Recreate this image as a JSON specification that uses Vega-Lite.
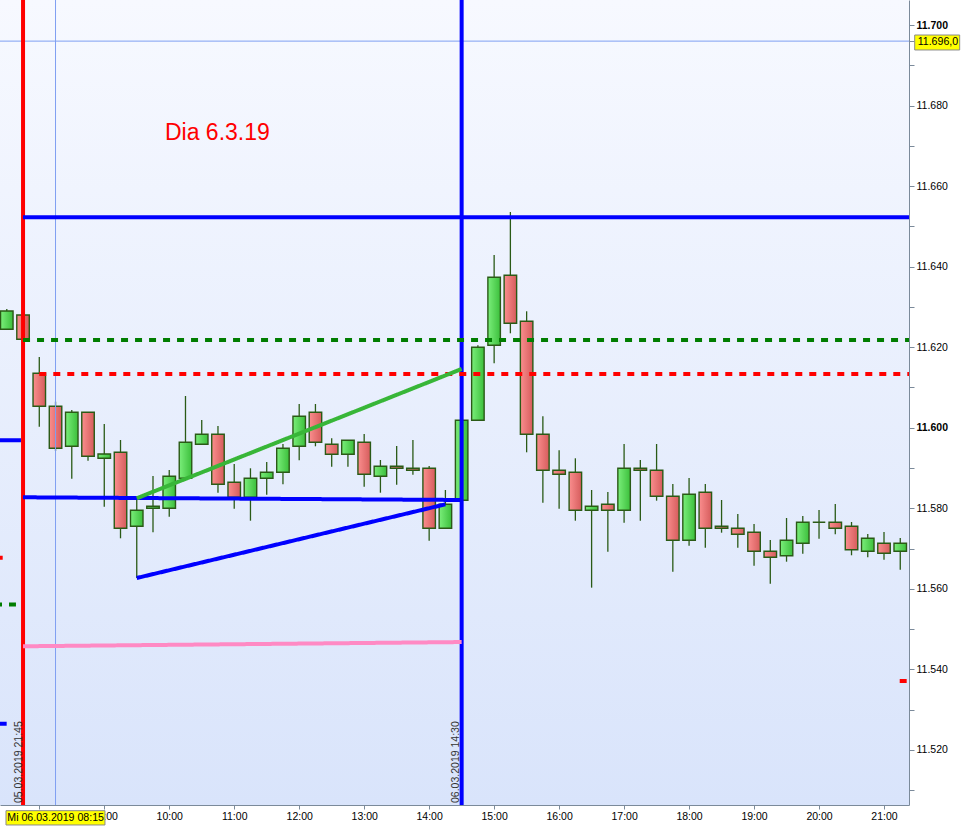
{
  "$schema": "https://vega.github.io/schema/vega-lite/v6.json",
  "width": 909,
  "height": 805,
  "autosize": "none",
  "padding": {"left": 0, "top": 0, "right": 61, "bottom": 22},
  "background": "#ffffff",
  "config": {"view": {"stroke": null}, "font": "Liberation Sans"},
  "resolve": {"axis": {"x": "independent", "y": "independent"}},
  "datasets": {
    "bg": [{"bg": 1}],
    "candles": [
      {"zeit": "05.03. 21:30", "t": 7.5, "o": 11624.45, "h": 11629.49, "l": 11624.45, "c": 11629.0},
      {"zeit": "05.03. 21:45", "t": 7.75, "o": 11628.0, "h": 11628.0, "l": 11621.97, "c": 11621.97},
      {"zeit": "06.03. 08:00", "t": 8.0, "o": 11613.53, "h": 11617.57, "l": 11600.27, "c": 11605.34},
      {"zeit": "06.03. 08:15", "t": 8.25, "o": 11605.34, "h": 11606.48, "l": 11594.24, "c": 11594.91},
      {"zeit": "06.03. 08:30", "t": 8.5, "o": 11595.4, "h": 11604.42, "l": 11587.36, "c": 11603.84},
      {"zeit": "06.03. 08:45", "t": 8.75, "o": 11603.84, "h": 11603.84, "l": 11591.83, "c": 11592.92},
      {"zeit": "06.03. 09:00", "t": 9.0, "o": 11592.42, "h": 11600.94, "l": 11580.41, "c": 11593.49},
      {"zeit": "06.03. 09:15", "t": 9.25, "o": 11593.91, "h": 11596.97, "l": 11572.56, "c": 11575.04},
      {"zeit": "06.03. 09:30", "t": 9.5, "o": 11575.54, "h": 11582.39, "l": 11562.7, "c": 11579.51},
      {"zeit": "06.03. 09:45", "t": 9.75, "o": 11580.01, "h": 11588.03, "l": 11574.05, "c": 11580.51},
      {"zeit": "06.03. 10:00", "t": 10.0, "o": 11580.01, "h": 11589.52, "l": 11577.92, "c": 11587.95},
      {"zeit": "06.03. 10:15", "t": 10.25, "o": 11587.46, "h": 11607.89, "l": 11587.46, "c": 11596.4},
      {"zeit": "06.03. 10:30", "t": 10.5, "o": 11595.9, "h": 11601.93, "l": 11595.9, "c": 11598.38},
      {"zeit": "06.03. 10:45", "t": 10.75, "o": 11598.38, "h": 11600.44, "l": 11583.88, "c": 11585.97},
      {"zeit": "06.03. 11:00", "t": 11.0, "o": 11586.47, "h": 11591.01, "l": 11579.91, "c": 11582.74},
      {"zeit": "06.03. 11:15", "t": 11.25, "o": 11582.74, "h": 11589.94, "l": 11576.93, "c": 11587.46},
      {"zeit": "06.03. 11:30", "t": 11.5, "o": 11587.46, "h": 11591.5, "l": 11583.39, "c": 11588.95},
      {"zeit": "06.03. 11:45", "t": 11.75, "o": 11588.95, "h": 11595.97, "l": 11585.97, "c": 11594.91},
      {"zeit": "06.03. 12:00", "t": 12.0, "o": 11595.4, "h": 11605.9, "l": 11591.93, "c": 11602.85},
      {"zeit": "06.03. 12:15", "t": 12.25, "o": 11603.84, "h": 11605.9, "l": 11595.4, "c": 11596.4},
      {"zeit": "06.03. 12:30", "t": 12.5, "o": 11595.9, "h": 11597.39, "l": 11590.34, "c": 11593.42},
      {"zeit": "06.03. 12:45", "t": 12.75, "o": 11593.42, "h": 11596.89, "l": 11590.34, "c": 11596.89},
      {"zeit": "06.03. 13:00", "t": 13.0, "o": 11596.4, "h": 11598.46, "l": 11585.37, "c": 11588.45},
      {"zeit": "06.03. 13:15", "t": 13.25, "o": 11587.95, "h": 11592.0, "l": 11583.88, "c": 11590.44},
      {"zeit": "06.03. 13:30", "t": 13.5, "o": 11590.44, "h": 11595.48, "l": 11585.87, "c": 11589.94},
      {"zeit": "06.03. 13:45", "t": 13.75, "o": 11589.94, "h": 11596.97, "l": 11588.35, "c": 11589.44},
      {"zeit": "06.03. 14:00", "t": 14.0, "o": 11589.94, "h": 11590.51, "l": 11571.97, "c": 11575.04},
      {"zeit": "06.03. 14:15", "t": 14.25, "o": 11575.04, "h": 11584.55, "l": 11575.04, "c": 11581.0},
      {"zeit": "06.03. 14:30", "t": 14.5, "o": 11582.0, "h": 11601.86, "l": 11582.0, "c": 11601.86},
      {"zeit": "06.03. 14:45", "t": 14.75, "o": 11601.86, "h": 11620.48, "l": 11601.86, "c": 11619.98},
      {"zeit": "06.03. 15:00", "t": 15.0, "o": 11620.48, "h": 11642.9, "l": 11616.01, "c": 11637.36},
      {"zeit": "06.03. 15:15", "t": 15.25, "o": 11637.86, "h": 11653.57, "l": 11623.46, "c": 11625.94},
      {"zeit": "06.03. 15:30", "t": 15.5, "o": 11626.44, "h": 11628.92, "l": 11593.91, "c": 11598.38},
      {"zeit": "06.03. 15:45", "t": 15.75, "o": 11598.38, "h": 11602.85, "l": 11581.4, "c": 11589.44},
      {"zeit": "06.03. 16:00", "t": 16.0, "o": 11589.44, "h": 11594.41, "l": 11579.91, "c": 11588.45},
      {"zeit": "06.03. 16:15", "t": 16.25, "o": 11588.95, "h": 11592.42, "l": 11576.93, "c": 11579.51},
      {"zeit": "06.03. 16:30", "t": 16.5, "o": 11579.51, "h": 11584.55, "l": 11560.3, "c": 11580.51},
      {"zeit": "06.03. 16:45", "t": 16.75, "o": 11581.0, "h": 11584.06, "l": 11569.23, "c": 11579.51},
      {"zeit": "06.03. 17:00", "t": 17.0, "o": 11579.51, "h": 11595.97, "l": 11576.43, "c": 11589.94},
      {"zeit": "06.03. 17:15", "t": 17.25, "o": 11589.94, "h": 11592.0, "l": 11576.93, "c": 11589.44},
      {"zeit": "06.03. 17:30", "t": 17.5, "o": 11589.44, "h": 11595.97, "l": 11581.9, "c": 11582.99},
      {"zeit": "06.03. 17:45", "t": 17.75, "o": 11582.99, "h": 11586.04, "l": 11564.27, "c": 11572.06},
      {"zeit": "06.03. 18:00", "t": 18.0, "o": 11572.06, "h": 11587.53, "l": 11570.72, "c": 11583.49},
      {"zeit": "06.03. 18:15", "t": 18.25, "o": 11583.98, "h": 11586.04, "l": 11570.23, "c": 11575.04},
      {"zeit": "06.03. 18:30", "t": 18.5, "o": 11575.54, "h": 11582.07, "l": 11573.95, "c": 11575.04},
      {"zeit": "06.03. 18:45", "t": 18.75, "o": 11575.04, "h": 11578.59, "l": 11570.23, "c": 11573.55},
      {"zeit": "06.03. 19:00", "t": 19.0, "o": 11574.05, "h": 11576.11, "l": 11565.76, "c": 11569.33},
      {"zeit": "06.03. 19:15", "t": 19.25, "o": 11569.33, "h": 11572.14, "l": 11561.29, "c": 11567.84},
      {"zeit": "06.03. 19:30", "t": 19.5, "o": 11568.24, "h": 11577.6, "l": 11566.75, "c": 11572.06},
      {"zeit": "06.03. 19:45", "t": 19.75, "o": 11571.32, "h": 11578.1, "l": 11568.74, "c": 11576.53},
      {"zeit": "06.03. 20:00", "t": 20.0, "o": 11576.53, "h": 11579.59, "l": 11572.46, "c": 11576.53},
      {"zeit": "06.03. 20:15", "t": 20.25, "o": 11576.53, "h": 11581.08, "l": 11573.55, "c": 11575.04},
      {"zeit": "06.03. 20:30", "t": 20.5, "o": 11575.54, "h": 11576.61, "l": 11568.34, "c": 11569.73},
      {"zeit": "06.03. 20:45", "t": 20.75, "o": 11569.33, "h": 11573.63, "l": 11567.84, "c": 11572.56},
      {"zeit": "06.03. 21:00", "t": 21.0, "o": 11571.32, "h": 11574.13, "l": 11567.25, "c": 11568.84},
      {"zeit": "06.03. 21:15", "t": 21.25, "o": 11569.33, "h": 11572.64, "l": 11564.77, "c": 11571.32}
    ],
    "segments": [
      {"typ": "blau", "t": 7.75, "t2": 21.3846, "v": 11652.3, "v2": 11652.3},
      {"typ": "grün gestrichelt", "t": 7.75, "t2": 21.3846, "v": 11621.8, "v2": 11621.8},
      {"typ": "rot gestrichelt", "t": 8.0, "t2": 21.3846, "v": 11613.35, "v2": 11613.35},
      {"typ": "blau", "t": 7.75, "t2": 14.5, "v": 11582.74, "v2": 11582.07},
      {"typ": "blau", "t": 9.5, "t2": 14.25, "v": 11562.7, "v2": 11581.0},
      {"typ": "grün", "t": 9.5, "t2": 14.5, "v": 11582.5, "v2": 11614.6},
      {"typ": "rosa", "t": 7.75, "t2": 14.5, "v": 11545.75, "v2": 11546.8},
      {"typ": "blau", "t": 7.3954, "t2": 7.718, "v": 11596.9, "v2": 11596.9},
      {"typ": "rot", "t": 7.3954, "t2": 7.437, "v": 11567.7, "v2": 11567.7},
      {"typ": "grün gestrichelt", "t": 7.3185, "t2": 7.641, "v": 11556.1, "v2": 11556.1},
      {"typ": "blau", "t": 7.3954, "t2": 7.498, "v": 11526.5, "v2": 11526.5},
      {"typ": "rot", "t": 21.2416, "t2": 21.349, "v": 11537.1, "v2": 11537.1}
    ],
    "verticals": [
      {"typ": "rot", "t": 7.75},
      {"typ": "blau", "t": 14.5}
    ],
    "crossx": [{"t": 8.25}],
    "crossy": [{"v": 11696.0}],
    "boxes": [
      {"t": 7.4877, "t2": 9.0108, "v": 11504.93, "v2": 11501.38},
      {"t": 21.4723, "t2": 22.1646, "v": 11697.52, "v2": 11693.8}
    ],
    "boxtexts": [
      {"text": "Mi 06.03.2019 08:15", "t": 7.508, "v": 11503.12},
      {"text": "11.696,0", "t": 21.518, "v": 11695.66}
    ],
    "vtexts": [
      {"text": "05.03.2019 21:45", "t": 7.6846, "v": 11506.84},
      {"text": "06.03.2019 14:30", "t": 14.4185, "v": 11506.84}
    ],
    "title": [
      {"text": "Dia 6.3.19", "t": 9.934, "v": 11671.45}
    ]
  },
  "layer": [
    {
      "data": {"name": "bg"},
      "mark": {
        "type": "rect",
        "fill": {
          "gradient": "linear", "x1": 0, "y1": 0, "x2": 0, "y2": 1,
          "stops": [{"offset": 0, "color": "#f7f9ff"}, {"offset": 1, "color": "#d9e4fb"}]
        }
      },
      "encoding": {}
    },
    {
      "data": {"name": "candles"},
      "mark": {"type": "rule", "color": "#2a5a16", "strokeWidth": 1.3},
      "encoding": {
        "x": {
          "field": "t", "type": "quantitative",
          "scale": {"type": "linear", "domain": [7.3954, 21.3846], "nice": false, "zero": false, "padding": 0},
          "axis": {
            "values": [8, 9, 10, 11, 12, 13, 14, 15, 16, 17, 18, 19, 20, 21],
            "labelExpr": "datum.value == 8 ? '' : (datum.value < 10 ? '0' : '') + datum.value + ':00'",
            "title": null, "grid": false, "tickSize": 4,
            "tickColor": "#7b8a9a", "domainColor": "#7b8a9a",
            "labelFont": "Liberation Sans", "labelFontSize": 10.5, "labelColor": "#000000",
            "labelPadding": 2, "labelFlush": false, "labelOverlap": false
          }
        },
        "y": {
          "field": "l", "type": "quantitative",
          "scale": {"type": "linear", "domain": [11506.34, 11706.21], "nice": false, "zero": false, "padding": 0},
          "axis": {
            "orient": "right",
            "values": [11510, 11520, 11530, 11540, 11550, 11560, 11570, 11580, 11590, 11600, 11610, 11620, 11630, 11640, 11650, 11660, 11670, 11680, 11690, 11700, 11696],
            "labelExpr": "datum.value % 20 === 0 ? replace(format(datum.value, ','), ',', '.') : ''",
            "labelFontWeight": {"condition": {"test": "datum.value % 100 === 0", "value": "bold"}, "value": "normal"},
            "title": null, "grid": false, "tickSize": 5,
            "tickColor": "#7b8a9a", "domainColor": "#7b8a9a",
            "labelFont": "Liberation Sans", "labelFontSize": 10.5, "labelColor": "#000000",
            "labelPadding": 2, "labelFlush": false, "labelOverlap": false
          }
        },
        "y2": {"field": "h"}
      }
    },
    {
      "data": {"name": "candles"},
      "transform": [{"filter": "datum.c >= datum.o"}],
      "mark": {
        "type": "bar", "width": 12.5, "stroke": "#2a5a16", "strokeWidth": 1.4,
        "fill": {
          "gradient": "linear", "x1": 0, "y1": 0, "x2": 1, "y2": 0,
          "stops": [{"offset": 0, "color": "#7aee7a"}, {"offset": 1, "color": "#3cbf3c"}]
        }
      },
      "encoding": {
        "x": {"field": "t", "type": "quantitative", "scale": {"type": "linear", "domain": [7.3954, 21.3846], "nice": false, "zero": false, "padding": 0}, "axis": null},
        "y": {"field": "o", "type": "quantitative", "scale": {"type": "linear", "domain": [11506.34, 11706.21], "nice": false, "zero": false, "padding": 0}, "axis": null},
        "y2": {"field": "c"}
      }
    },
    {
      "data": {"name": "candles"},
      "transform": [{"filter": "datum.c < datum.o"}],
      "mark": {
        "type": "bar", "width": 12.5, "stroke": "#2a5a16", "strokeWidth": 1.4,
        "fill": {
          "gradient": "linear", "x1": 0, "y1": 0, "x2": 1, "y2": 0,
          "stops": [{"offset": 0, "color": "#fa8e8e"}, {"offset": 1, "color": "#d65c5c"}]
        }
      },
      "encoding": {
        "x": {"field": "t", "type": "quantitative", "scale": {"type": "linear", "domain": [7.3954, 21.3846], "nice": false, "zero": false, "padding": 0}, "axis": null},
        "y": {"field": "o", "type": "quantitative", "scale": {"type": "linear", "domain": [11506.34, 11706.21], "nice": false, "zero": false, "padding": 0}, "axis": null},
        "y2": {"field": "c"}
      }
    },
    {
      "data": {"name": "crossx"},
      "mark": {"type": "rule", "color": "#7f9ff2", "strokeWidth": 1},
      "encoding": {
        "x": {"field": "t", "type": "quantitative", "scale": {"type": "linear", "domain": [7.3954, 21.3846], "nice": false, "zero": false, "padding": 0}, "axis": null}
      }
    },
    {
      "data": {"name": "crossy"},
      "mark": {"type": "rule", "color": "#7f9ff2", "strokeWidth": 1},
      "encoding": {
        "y": {"field": "v", "type": "quantitative", "scale": {"type": "linear", "domain": [11506.34, 11706.21], "nice": false, "zero": false, "padding": 0}, "axis": null}
      }
    },
    {
      "data": {"name": "verticals"},
      "mark": {"type": "rule", "strokeWidth": 4},
      "encoding": {
        "x": {"field": "t", "type": "quantitative", "scale": {"type": "linear", "domain": [7.3954, 21.3846], "nice": false, "zero": false, "padding": 0}, "axis": null},
        "color": {"field": "typ", "type": "nominal", "legend": null,
          "scale": {"domain": ["blau", "rot", "grün", "grün gestrichelt", "rot gestrichelt", "rosa"],
                    "range": ["#0000ff", "#ff0000", "#38b638", "#007d00", "#ff0000", "#ff8ac4"]}}
      }
    },
    {
      "data": {"name": "segments"},
      "mark": {"type": "rule", "strokeWidth": 4, "clip": false},
      "encoding": {
        "x": {"field": "t", "type": "quantitative", "scale": {"type": "linear", "domain": [7.3954, 21.3846], "nice": false, "zero": false, "padding": 0}, "axis": null},
        "x2": {"field": "t2"},
        "y": {"field": "v", "type": "quantitative", "scale": {"type": "linear", "domain": [11506.34, 11706.21], "nice": false, "zero": false, "padding": 0}, "axis": null},
        "y2": {"field": "v2"},
        "color": {"field": "typ", "type": "nominal", "legend": null,
          "scale": {"domain": ["blau", "rot", "grün", "grün gestrichelt", "rot gestrichelt", "rosa"],
                    "range": ["#0000ff", "#ff0000", "#38b638", "#007d00", "#ff0000", "#ff8ac4"]}},
        "strokeDash": {"field": "typ", "type": "nominal", "legend": null,
          "scale": {"domain": ["blau", "rot", "grün", "grün gestrichelt", "rot gestrichelt", "rosa"],
                    "range": [[1, 0], [1, 0], [1, 0], [7, 7], [7, 7], [1, 0]]}}
      }
    },
    {
      "data": {"name": "boxes"},
      "mark": {"type": "rect", "fill": "#ffff00", "stroke": "#8a8a8a", "strokeWidth": 1, "clip": false},
      "encoding": {
        "x": {"field": "t", "type": "quantitative", "scale": {"type": "linear", "domain": [7.3954, 21.3846], "nice": false, "zero": false, "padding": 0}, "axis": null},
        "x2": {"field": "t2"},
        "y": {"field": "v", "type": "quantitative", "scale": {"type": "linear", "domain": [11506.34, 11706.21], "nice": false, "zero": false, "padding": 0}, "axis": null},
        "y2": {"field": "v2"}
      }
    },
    {
      "data": {"name": "boxtexts"},
      "mark": {"type": "text", "align": "left", "baseline": "middle", "font": "Liberation Sans", "fontSize": 10.6, "color": "#000000", "clip": false},
      "encoding": {
        "x": {"field": "t", "type": "quantitative", "scale": {"type": "linear", "domain": [7.3954, 21.3846], "nice": false, "zero": false, "padding": 0}, "axis": null},
        "y": {"field": "v", "type": "quantitative", "scale": {"type": "linear", "domain": [11506.34, 11706.21], "nice": false, "zero": false, "padding": 0}, "axis": null},
        "text": {"field": "text"}
      }
    },
    {
      "data": {"name": "vtexts"},
      "mark": {"type": "text", "align": "left", "baseline": "middle", "angle": 270, "font": "Liberation Sans", "fontSize": 10.5, "color": "#333333"},
      "encoding": {
        "x": {"field": "t", "type": "quantitative", "scale": {"type": "linear", "domain": [7.3954, 21.3846], "nice": false, "zero": false, "padding": 0}, "axis": null},
        "y": {"field": "v", "type": "quantitative", "scale": {"type": "linear", "domain": [11506.34, 11706.21], "nice": false, "zero": false, "padding": 0}, "axis": null},
        "text": {"field": "text"}
      }
    },
    {
      "data": {"name": "title"},
      "mark": {"type": "text", "align": "left", "baseline": "alphabetic", "font": "Liberation Sans", "fontSize": 23, "color": "#ff0000"},
      "encoding": {
        "x": {"field": "t", "type": "quantitative", "scale": {"type": "linear", "domain": [7.3954, 21.3846], "nice": false, "zero": false, "padding": 0}, "axis": null},
        "y": {"field": "v", "type": "quantitative", "scale": {"type": "linear", "domain": [11506.34, 11706.21], "nice": false, "zero": false, "padding": 0}, "axis": null},
        "text": {"field": "text"}
      }
    }
  ]
}
